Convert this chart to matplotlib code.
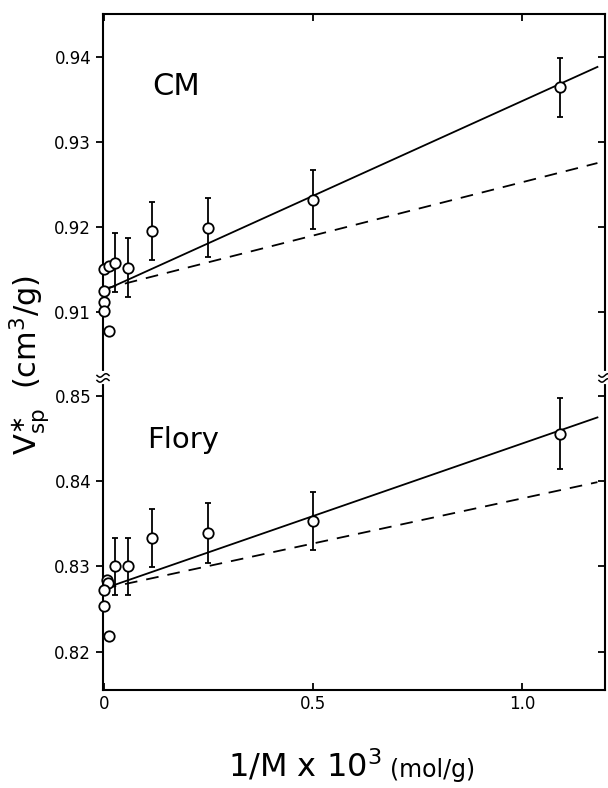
import numpy as np
import matplotlib.pyplot as plt

# CM data (top panel)
cm_x = [0.0, 0.012, 0.0, 0.0, 0.0, 0.012, 0.026, 0.057, 0.115, 0.25, 0.5, 1.09]
cm_y = [0.9151, 0.9154, 0.9124, 0.9112, 0.9101, 0.9078, 0.9158, 0.9152, 0.9195, 0.9199, 0.9232, 0.9364]
cm_err_x = [0.026, 0.057, 0.115, 0.25, 0.5, 1.09]
cm_err_y = [0.9158, 0.9152, 0.9195, 0.9199, 0.9232, 0.9364]
cm_err = [0.0035, 0.0035, 0.0034, 0.0035, 0.0035, 0.0035]
cm_solid = ([0.0, 1.18], [0.9125, 0.9388])
cm_dash = ([0.0, 1.18], [0.9127, 0.9275])

# Flory data (bottom panel)
fl_x = [0.008, 0.010, 0.0, 0.0, 0.012, 0.026, 0.057, 0.115, 0.25, 0.5, 1.09]
fl_y = [0.8284, 0.8281, 0.8272, 0.8254, 0.8218, 0.8300, 0.8300, 0.8333, 0.8339, 0.8353, 0.8456]
fl_err_x = [0.026, 0.057, 0.115, 0.25, 0.5, 1.09]
fl_err_y = [0.8300, 0.8300, 0.8333, 0.8339, 0.8353, 0.8456]
fl_err = [0.0034, 0.0034, 0.0034, 0.0035, 0.0034, 0.0042]
fl_solid = ([0.0, 1.18], [0.8274, 0.8475])
fl_dash = ([0.0, 1.18], [0.8274, 0.8399])

x_ticks = [0, 0.5, 1.0]
x_labels = ['0', '0.5', '1.0']
top_ticks = [0.91, 0.92, 0.93, 0.94]
top_labels = ['0.91', '0.92', '0.93', '0.94']
bot_ticks = [0.82, 0.83, 0.84, 0.85]
bot_labels = ['0.82', '0.83', '0.84', '0.85']

plt.rcParams['font.family'] = ['Liberation Sans Narrow', 'DejaVu Sans']

fig = plt.figure(figsize=(6.08, 7.88), dpi=100)
ax1 = fig.add_axes([0.1694, 0.520, 0.8256, 0.462])
ax2 = fig.add_axes([0.1694, 0.1244, 0.8256, 0.3956])

mk = dict(marker='o', ms=7.5, mfc='white', mec='black', mew=1.3, ls='none', zorder=4)
eb = dict(fmt='none', ecolor='black', elinewidth=1.3, capsize=2.5, capthick=1.3, zorder=3)

for ax, xs, ys, ex, ey, ee, sol, das, ylim, tk, tl in [
        (ax1, cm_x, cm_y, cm_err_x, cm_err_y, cm_err, cm_solid, cm_dash, (0.9022, 0.945),
         top_ticks, top_labels),
        (ax2, fl_x, fl_y, fl_err_x, fl_err_y, fl_err, fl_solid, fl_dash, (0.8155, 0.8521),
         bot_ticks, bot_labels)]:
    ax.plot(sol[0], sol[1], color='black', lw=1.3, zorder=2)
    ax.plot(das[0], das[1], color='black', lw=1.3, ls=(0, (7, 5)), zorder=2)
    ax.errorbar(ex, ey, yerr=ee, **eb)
    ax.plot(xs, ys, clip_on=False, **mk)
    ax.set_xlim(-0.002, 1.198)
    ax.set_ylim(*ylim)
    for s in ax.spines.values():
        s.set_linewidth(1.5)
    ax.tick_params(axis='y', left=True, right=False, direction='out',
                   length=5, width=1.3, labelsize=12)
    ax.tick_params(axis='x', direction='in', top=True, bottom=True, length=5, width=1.3,
                   labelsize=12)
    ax.set_xticks(x_ticks)
    ax.set_yticks(tk, tl)
    # inward ticks on the right side
    tw = ax.twinx()
    tw.set_ylim(*ylim)
    tw.set_yticks(tk)
    tw.tick_params(axis='y', direction='in', length=5, width=1.3, labelright=False)
    for s in tw.spines.values():
        s.set_visible(False)

ax1.spines['bottom'].set_visible(False)
ax2.spines['top'].set_visible(False)
ax1.tick_params(axis='x', bottom=False, labelbottom=False)
ax2.tick_params(axis='x', top=False)
ax2.set_xticklabels(x_labels)

# axis break marks (drawn on both side spines)
t = np.linspace(-1, 1, 30)
dx = 0.012
amp = 0.0055
for xb in (0.0, 1.0):
    ax2.plot([xb, xb], [0.987, 1.016], transform=ax2.transAxes, color='white',
             lw=3, clip_on=False, zorder=5)
    for off in (0.993, 1.009):
        ax2.plot(xb + dx * t, off + amp * np.sin(np.pi * t), transform=ax2.transAxes,
                 color='black', lw=1.1, clip_on=False, zorder=6)

ax1.text(0.172, 0.9365, 'CM', fontsize=22, family='DejaVu Sans', ha='center', va='center')
ax2.text(0.19, 0.8448, 'Flory', fontsize=21, family='DejaVu Sans', ha='center', va='center')

fig.text(0.048, 1 - 365 / 788, r'$\mathregular{V^{\ast}_{sp}}$  (cm$^3$/g)', rotation=90,
         fontsize=22, family='DejaVu Sans', ha='center', va='center')
fig.text(0.628, 0.014, r'1/M x 10$^3$', fontsize=23, family='DejaVu Sans',
         ha='right', va='baseline')
fig.text(0.642, 0.014, '(mol/g)', fontsize=17, family='DejaVu Sans',
         ha='left', va='baseline')

fig.savefig('out.png', dpi=100)
